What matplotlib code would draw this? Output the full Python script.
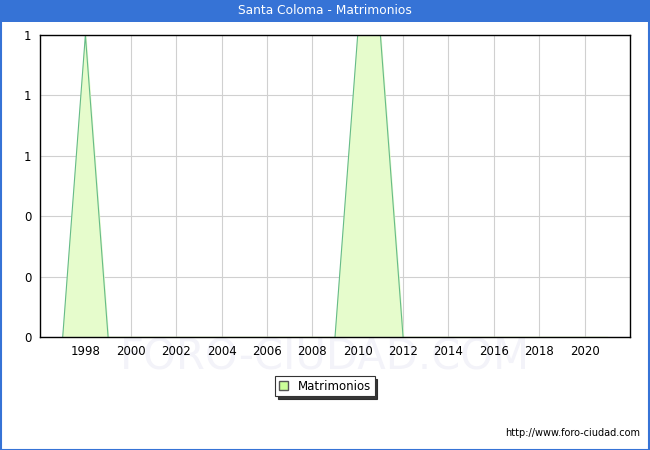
import numpy as np
import matplotlib.pyplot as plt
from matplotlib.ticker import FuncFormatter
from matplotlib.patches import Rectangle

years = list(range(1997, 2022))
matrimonios = [0, 1, 0, 0, 0, 0, 0, 0, 0, 0, 0, 0, 0, 1, 1, 0,
               0, 0, 0, 0, 0, 0, 0, 0, 0]
year_ticks = list(range(1998, 2021, 2))
y_ticks = [0, 0.2, 0.4, 0.6, 0.8, 1.0]

fig = plt.figure(figsize=(6.5, 4.5), dpi=100)
W, H = 650, 450

# blue title bar and frame
fig.patches.append(Rectangle((0, 1 - 22 / H), 1, 22 / H, transform=fig.transFigure,
                             facecolor='#3673d6', edgecolor='none', zorder=0))
fig.patches.append(Rectangle((0.5 / W, 0.5 / H), 1 - 1.5 / W, 1 - 1 / H, transform=fig.transFigure,
                             facecolor='none', edgecolor='#3673d6', linewidth=1.5, zorder=0))
fig.text(0.5, 1 - 11 / H, 'Santa Coloma - Matrimonios', ha='center', va='center',
         color='white', fontsize=8.8)

ax = fig.add_axes([40 / W, 1 - 337 / H, 590 / W, 302 / H])
ax.fill_between(years, matrimonios, color='#e6fccc', zorder=2)

# outline only where the series leaves zero (baseline hidden by the axis)
vals = np.array(matrimonios, dtype=float)
keep = np.zeros(len(vals), dtype=bool)
for i in range(len(vals)):
    lo, hi = max(i - 1, 0), min(i + 2, len(vals))
    keep[i] = vals[lo:hi].any()
line_vals = np.where(keep, vals, np.nan)
ax.plot(years, line_vals, color='#66bb88', linewidth=0.8, zorder=3)

ax.set_xlim(1996, 2022)
ax.set_ylim(0, 1)
ax.set_xticks(year_ticks)
ax.set_yticks(y_ticks)
ax.yaxis.set_major_formatter(FuncFormatter(lambda v, p: f'{v:.0f}'))
ax.grid(True, color='#d0d0d0', linewidth=0.8, zorder=1)
ax.tick_params(length=0, labelsize=8.5, pad=6)
for s in ax.spines.values():
    s.set_linewidth(1.0)
    s.set_zorder(4)

# faint watermark behind the tick labels
ax.text(0.5, 1 - 358 / H, 'FORO-CIUDAD.COM', transform=fig.transFigure, ha='center', va='center',
        fontsize=30, color='#f3f3f9', zorder=0.5, clip_on=False)

leg = ax.legend(handles=[Rectangle((0, 0), 1, 1, facecolor='#ccff99', edgecolor='#555555')],
                labels=['Matrimonios'],
                loc='center', bbox_to_anchor=(325 / W, 1 - 386 / H), bbox_transform=fig.transFigure,
                fontsize=8.5, fancybox=False, shadow={'color': '#222222', 'alpha': 0.9, 'ox': 2, 'oy': -2},
                framealpha=1, edgecolor='#333333',
                handlelength=0.8, handleheight=0.8, borderpad=0.3, handletextpad=0.8)
leg.get_frame().set_linewidth(0.8)

fig.text(640 / W, 1 - 433 / H, 'http://www.foro-ciudad.com', ha='right', va='center', fontsize=7)

fig.savefig('out.png', dpi=100)
